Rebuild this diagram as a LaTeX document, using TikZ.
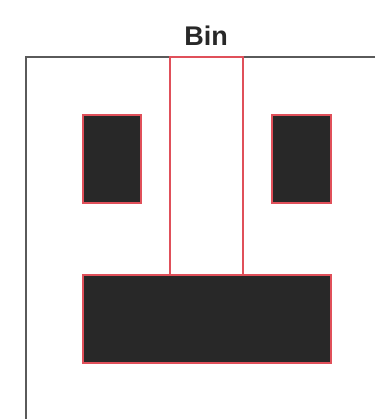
\documentclass[tikz,border=0pt]{standalone}
\usepackage{fontspec}
\setmainfont{Liberation Sans}
\definecolor{edge}{HTML}{E0505A}
\definecolor{blk}{HTML}{282828}
\definecolor{frame}{HTML}{5A5A5A}
\begin{document}
\begin{tikzpicture}[x=1pt,y=-1pt,
  block/.style={draw=edge,line width=1.4pt,fill=blk},
  hollow/.style={draw=edge,line width=1.4pt,fill=none},
  axis/.style={draw=frame,line width=1.6pt}]
\useasboundingbox (0,0) rectangle (375,419);
\coordinate (tl) at (26,57);
\coordinate (tr) at (375,57);
\coordinate (bl) at (26,419);
\draw[axis] (tr) -- (tl) -- (bl);
\node[anchor=base,font=\fontsize{27}{30}\selectfont\bfseries,text=blk,inner sep=0pt] (title) at (206,46) {Bin};
\draw[block] (83,115) rectangle (141,203);
\draw[block] (272,115) rectangle (331,203);
\draw[block] (83,275) rectangle (331,363);
\draw[hollow] (170,57) rectangle (243,275);
\end{tikzpicture}
\end{document}
